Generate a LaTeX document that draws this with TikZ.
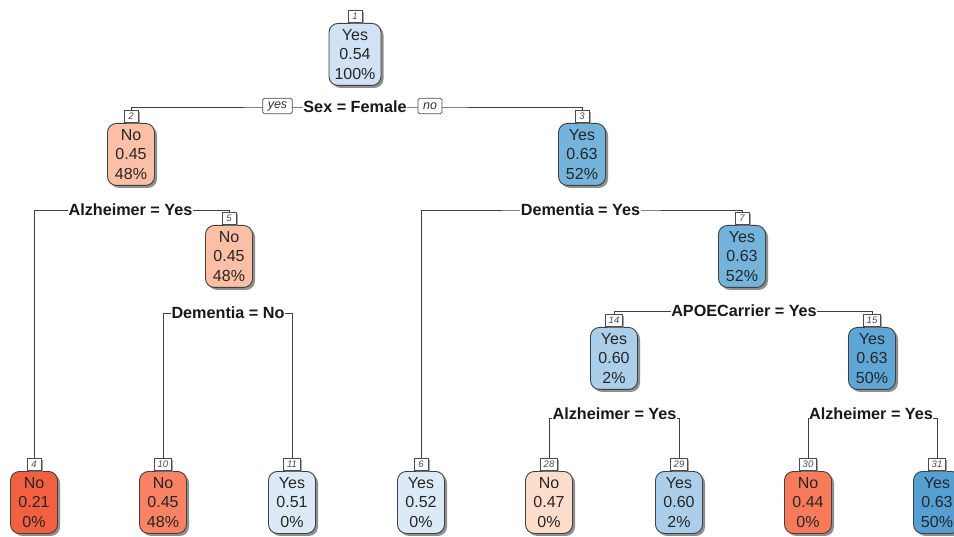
\documentclass[tikz,border=0pt]{standalone}
\usepackage{fontspec}
\setmainfont{Liberation Sans}
\usetikzlibrary{shadows,backgrounds}
\definecolor{cA}{HTML}{D0E2F3}
\definecolor{cB}{HTML}{FABFA5}
\definecolor{cC}{HTML}{74B3DB}
\definecolor{cD}{HTML}{ABCEEA}
\definecolor{cE}{HTML}{5EA6D6}
\definecolor{cF}{HTML}{F2613F}
\definecolor{cG}{HTML}{FA8264}
\definecolor{cH}{HTML}{DCEAF7}
\definecolor{cI}{HTML}{FCDCCB}
\definecolor{cJ}{HTML}{F77B5B}
\definecolor{cK}{HTML}{559FD3}
\newcommand{\rpnodefont}{\fontsize{16}{19.5}\selectfont}
\newcommand{\rpsplitfont}{\fontsize{16.2}{18}\selectfont\bfseries}
\newcommand{\rpnumfont}{\fontsize{9.5}{10}\selectfont\itshape}
\newcommand{\rpynfont}{\fontsize{12.5}{13}\selectfont\itshape}
\tikzset{
  leaf/.style={draw=black!75, line width=0.9pt, rounded corners=9pt,
    minimum width=47pt, minimum height=62pt, inner sep=0pt, align=center,
    font=\rpnodefont, text=black!85,
    drop shadow={shadow xshift=2.5pt, shadow yshift=-2.5pt, fill=black!55, opacity=0.8}},
  numbox/.style={draw=black!70, fill=white, line width=0.8pt, minimum width=14pt,
    minimum height=12.5pt, inner xsep=3.5pt, inner ysep=1pt, font=\rpnumfont, text=black!70,
    drop shadow={shadow xshift=1.5pt, shadow yshift=-1.5pt, fill=black!50, opacity=0.7}},
  splitlabel/.style={fill=white, inner xsep=0.5pt, inner ysep=1pt, font=\rpsplitfont, text=black!90},
  ynbox/.style={draw=black!70, fill=white, line width=0.7pt, rounded corners=1.5pt,
    font=\rpynfont, text=black!80, minimum height=15.5pt, inner xsep=5pt, inner ysep=1pt},
  edge/.style={draw=black!75, line width=0.9pt}
}
\begin{document}
\begin{tikzpicture}[x=1pt,y=-1pt]
\useasboundingbox (0,0) rectangle (954,537);
% main boxes
\node[leaf, fill=cA, anchor=north, minimum width=52pt] (n1) at (355,23) {Yes\\0.54\\100\%};
\node[leaf, fill=cB, anchor=north] (n2) at (131,123) {No\\0.45\\48\%};
\node[leaf, fill=cC, anchor=north] (n3) at (582,123) {Yes\\0.63\\52\%};
\node[leaf, fill=cB, anchor=north] (n5) at (229,225) {No\\0.45\\48\%};
\node[leaf, fill=cC, anchor=north] (n7) at (742,225) {Yes\\0.63\\52\%};
\node[leaf, fill=cD, anchor=north] (n14) at (614,327) {Yes\\0.60\\2\%};
\node[leaf, fill=cE, anchor=north] (n15) at (872,327) {Yes\\0.63\\50\%};
\node[leaf, fill=cF, anchor=north] (n4) at (34,471) {No\\0.21\\0\%};
\node[leaf, fill=cG, anchor=north] (n10) at (163,471) {No\\0.45\\48\%};
\node[leaf, fill=cH, anchor=north] (n11) at (292,471) {Yes\\0.51\\0\%};
\node[leaf, fill=cH, anchor=north] (n6) at (421,471) {Yes\\0.52\\0\%};
\node[leaf, fill=cI, anchor=north] (n28) at (549,471) {No\\0.47\\0\%};
\node[leaf, fill=cD, anchor=north] (n29) at (679,471) {Yes\\0.60\\2\%};
\node[leaf, fill=cJ, anchor=north] (n30) at (808,471) {No\\0.44\\0\%};
\node[leaf, fill=cK, anchor=north] (n31) at (937,471) {Yes\\0.63\\50\%};
% number boxes
\node[numbox, anchor=south] (m1) at (n1.north) {1};
\node[numbox, anchor=south] (m2) at (n2.north) {2};
\node[numbox, anchor=south] (m3) at (n3.north) {3};
\node[numbox, anchor=south] (m5) at (n5.north) {5};
\node[numbox, anchor=south] (m7) at (n7.north) {7};
\node[numbox, anchor=south] (m14) at (n14.north) {14};
\node[numbox, anchor=south] (m15) at (n15.north) {15};
\node[numbox, anchor=south] (m4) at (n4.north) {4};
\node[numbox, anchor=south] (m10) at (n10.north) {10};
\node[numbox, anchor=south] (m11) at (n11.north) {11};
\node[numbox, anchor=south] (m6) at (n6.north) {6};
\node[numbox, anchor=south] (m28) at (n28.north) {28};
\node[numbox, anchor=south] (m29) at (n29.north) {29};
\node[numbox, anchor=south] (m30) at (n30.north) {30};
\node[numbox, anchor=south] (m31) at (n31.north) {31};
% split labels
\node[splitlabel] (s1) at (355,107) {Sex = Female};
\node[ynbox] (yes) at (277.5,106) {yes};
\node[ynbox] (no) at (430,106) {no};
\node[splitlabel] (s2) at (130.5,210) {Alzheimer = Yes};
\node[splitlabel] (s5) at (228,313) {Dementia = No};
\node[splitlabel] (s3) at (580.5,210) {Dementia = Yes};
\node[splitlabel] (s7) at (744,311) {APOECarrier = Yes};
\node[splitlabel] (s14) at (614.5,414) {Alzheimer = Yes};
\node[splitlabel] (s15) at (871,414) {Alzheimer = Yes};
% connectors
\begin{pgfonlayer}{background}
\draw[edge] (m2.north) |- (s1.center) -| (m3.north);
\draw[edge] (m4.north) |- (s2.center) -| (m5.north);
\draw[edge] (m10.north) |- (s5.center) -| (m11.north);
\draw[edge] (m6.north) |- (s3.center) -| (m7.north);
\draw[edge] (m14.north) |- (s7.center) -| (m15.north);
\draw[edge] (m28.north) |- ([yshift=-4pt]s14.center) -| (m29.north);
\draw[edge] (m30.north) |- ([yshift=-4pt]s15.center) -| (m31.north);
\end{pgfonlayer}
\end{tikzpicture}
\end{document}
